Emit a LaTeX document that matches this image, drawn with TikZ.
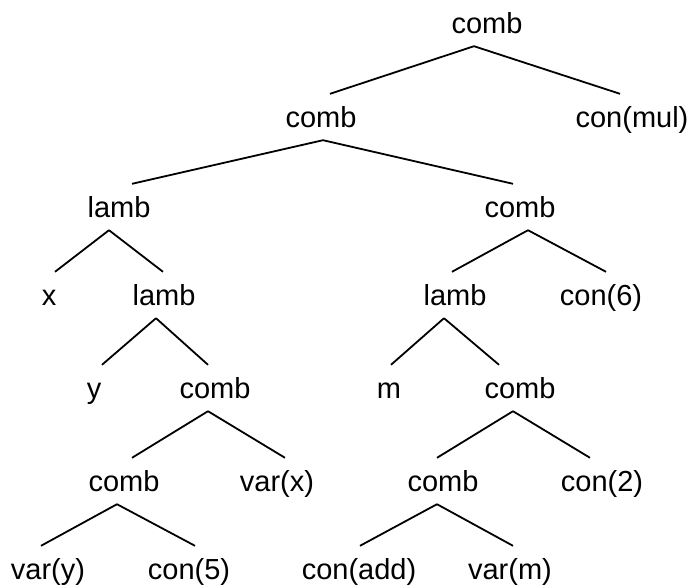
\documentclass[tikz,border=0pt]{standalone}
\usepackage{fontspec}
\setmainfont{Liberation Sans}
\begin{document}
\begin{tikzpicture}[x=1pt,y=-1pt,
  lbl/.style={anchor=base,font=\fontsize{29}{35}\selectfont,text height=20pt,text depth=0pt,inner xsep=0pt,inner ysep=13pt},
  edge/.style={line width=1.8pt}]
\useasboundingbox (0,0) rectangle (691,587);
\node[lbl] (r) at (487,33) {comb};
\node[lbl] (a) at (321,127) {comb};
\node[lbl] (b) at (632,127) {con(mul)};
\node[lbl] (c) at (119,217) {lamb};
\node[lbl] (d) at (520,217) {comb};
\node[lbl] (e) at (49,305) {x};
\node[lbl] (f) at (164,305) {lamb};
\node[lbl] (g) at (455,305) {lamb};
\node[lbl] (h) at (601,305) {con(6)};
\node[lbl] (i) at (94,398) {y};
\node[lbl] (j) at (215,398) {comb};
\node[lbl] (k) at (389,398) {m};
\node[lbl] (l) at (520,398) {comb};
\node[lbl] (m) at (124,491) {comb};
\node[lbl] (n) at (277,491) {var(x)};
\node[lbl] (o) at (443,491) {comb};
\node[lbl] (p) at (602,491) {con(2)};
\node[lbl] (q) at (48,579) {var(y)};
\node[lbl] (s) at (189,579) {con(5)};
\node[lbl] (t) at (359,579) {con(add)};
\node[lbl] (u) at (510,579) {var(m)};
\newcommand{\treeedge}[4]{\draw[edge] ([xshift=#2pt]#1.south) -- ([xshift=#4pt]#3.north);}
\treeedge{r}{-13}{a}{9}
\treeedge{r}{-13}{b}{-12}
\treeedge{a}{2}{c}{13}
\treeedge{a}{2}{d}{-7}
\treeedge{c}{-10}{e}{6}
\treeedge{c}{-10}{f}{-1}
\treeedge{d}{8}{g}{-3}
\treeedge{d}{8}{h}{5}
\treeedge{f}{-8}{i}{8}
\treeedge{f}{-8}{j}{-7}
\treeedge{g}{-11}{k}{2}
\treeedge{g}{-11}{l}{-21}
\treeedge{j}{-7}{m}{8}
\treeedge{j}{-7}{n}{8}
\treeedge{l}{-7}{o}{-6}
\treeedge{l}{-7}{p}{-12}
\treeedge{m}{-7}{q}{-7}
\treeedge{m}{-7}{s}{6}
\treeedge{o}{-6}{t}{1}
\treeedge{o}{-6}{u}{3}
\end{tikzpicture}
\end{document}
